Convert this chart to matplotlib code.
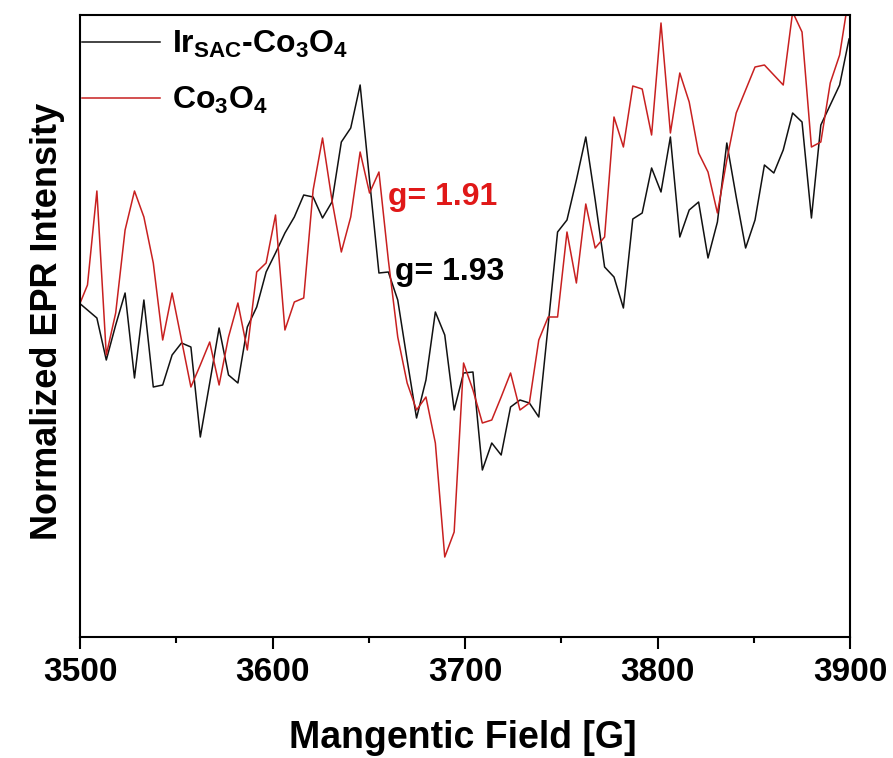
import numpy as np
import matplotlib
matplotlib.use("Agg")
import matplotlib.pyplot as plt
from matplotlib.ticker import MultipleLocator

plt.rcParams['font.family'] = ['Liberation Sans', 'DejaVu Sans']
plt.rcParams['font.weight'] = 'bold'
plt.rcParams['mathtext.fontset'] = 'custom'
plt.rcParams['mathtext.rm'] = 'Liberation Sans:bold'
plt.rcParams['mathtext.it'] = 'Liberation Sans:bold'
plt.rcParams['mathtext.bf'] = 'Liberation Sans:bold'
plt.rcParams['mathtext.default'] = 'rm'

# Magnetic field (G), 83 equally spaced sample points
field = np.linspace(3499, 3899.5, 83)

# Normalized EPR intensity (a.u.)
ir_sac_co3o4 = [3.35, 3.27, 3.19, 2.77, 3.12, 3.44, 2.59, 3.37, 2.50, 2.52,
                2.82, 2.94, 2.90, 2.00, 2.54, 3.09, 2.62, 2.54, 3.10, 3.30,
                3.65, 3.84, 4.04, 4.20, 4.42, 4.40, 4.19, 4.35, 4.95, 5.09,
                5.52, 4.57, 3.64, 3.65, 3.37, 2.77, 2.19, 2.57, 3.25, 3.02,
                2.27, 2.64, 2.65, 1.67, 1.94, 1.82, 2.30, 2.37, 2.34, 2.20,
                3.12, 4.05, 4.17, 4.57, 5.00, 4.37, 3.70, 3.60, 3.29, 4.18,
                4.24, 4.69, 4.45, 5.00, 4.00, 4.27, 4.35, 3.79, 4.15, 4.94,
                4.40, 3.89, 4.17, 4.72, 4.64, 4.87, 5.24, 5.15, 4.19, 5.12,
                5.32, 5.52, 5.98]

co3o4 = [3.29, 3.52, 4.46, 2.82, 3.24, 4.07, 4.46, 4.20, 3.74, 2.97,
         3.44, 2.97, 2.50, 2.72, 2.95, 2.52, 3.00, 3.34, 2.87, 3.65,
         3.74, 4.22, 3.07, 3.35, 3.39, 4.47, 4.99, 4.37, 3.85, 4.20,
         4.85, 4.44, 4.65, 3.77, 3.00, 2.54, 2.27, 2.40, 1.94, 0.80,
         1.05, 2.74, 2.47, 2.14, 2.17, 2.40, 2.64, 2.27, 2.34, 2.97,
         3.20, 3.20, 4.05, 3.54, 4.33, 3.89, 4.00, 5.20, 4.90, 5.51,
         5.48, 5.02, 6.14, 5.04, 5.64, 5.35, 4.84, 4.65, 4.24, 4.77,
         5.24, 5.47, 5.70, 5.72, 5.62, 5.52, 6.25, 6.05, 4.90, 4.95,
         5.54, 5.82, 6.42]

series_labels = [r'Ir$_{SAC}$-Co$_3$O$_4$', r'Co$_3$O$_4$']
g_labels = ['g= 1.91', 'g= 1.93']
x_ticks = [3500, 3600, 3700, 3800, 3900]

fig = plt.figure(figsize=(8.93, 7.58), dpi=100)
ax = fig.add_axes([80/893, 121/758, 770/893, 622/758])

ax.plot(field, ir_sac_co3o4, color='#111111', lw=1.1, label=series_labels[0])
ax.plot(field, co3o4, color='#C82020', lw=1.1, label=series_labels[1])

ax.set_xlim(3500, 3900)
ax.set_ylim(0, 6.22)
ax.set_xticks(x_ticks)
ax.set_xticklabels([str(t) for t in x_ticks])
ax.xaxis.set_minor_locator(MultipleLocator(50))
ax.set_yticks([])
ax.tick_params(axis='x', which='major', direction='out', length=8.6, width=1.5,
               labelsize=24, pad=6)
ax.tick_params(axis='x', which='minor', direction='out', length=4.5, width=1.5)
for lab in ax.get_xticklabels():
    lab.set_fontweight('bold')
for sp in ax.spines.values():
    sp.set_linewidth(1.5)

ax.set_xlabel('Mangentic Field [G]', fontsize=27, fontweight='bold')
ax.xaxis.set_label_coords(0.497, -0.1334)
ax.set_ylabel('Normalized EPR Intensity', fontsize=26, fontweight='bold')
ax.yaxis.set_label_coords(-0.019, 0.508)

ax.text(3660, 4.32, g_labels[0], color='#E01818', fontsize=23,
        fontweight='bold', ha='left', va='baseline')
ax.text(3663.5, 3.57, g_labels[1], color='#000000', fontsize=23,
        fontweight='bold', ha='left', va='baseline')

leg = ax.legend(loc='upper left', bbox_to_anchor=(0.003, 0.977), frameon=False,
                fontsize=23, handlelength=2.44, handletextpad=0.375,
                borderpad=0, borderaxespad=0, labelspacing=0.76)

fig.savefig('out.png', dpi=100)
